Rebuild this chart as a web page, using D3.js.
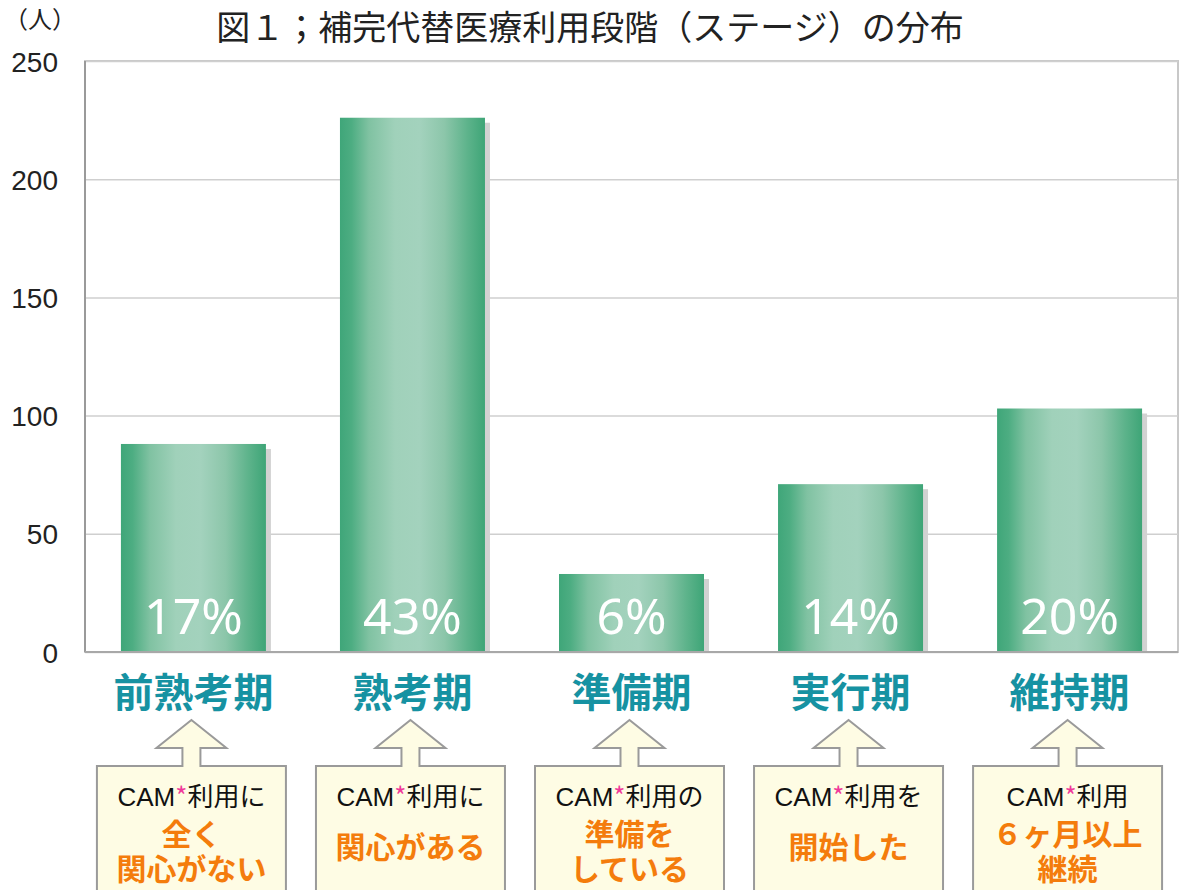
<!DOCTYPE html>
<html>
<head>
<meta charset="utf-8">
<script src="https://cdn.jsdelivr.net/npm/d3@7"></script>
<style>
  html, body { margin: 0; padding: 0; background: #fff; }
  svg { display: block; font-family: "Noto Sans CJK JP", "Noto Sans", sans-serif; }
</style>
</head>
<body>
<svg id="chart" width="1179" height="890"></svg>
<script>
const stages = ["前熟考期", "熟考期", "準備期", "実行期", "維持期"];
const counts = [88, 226, 33, 71, 103];
const shares = ["17%", "43%", "6%", "14%", "20%"];
const boxLead = ["CAM*利用に", "CAM*利用に", "CAM*利用の", "CAM*利用を", "CAM*利用"];
const boxMain = [["全く", "関心がない"], ["関心がある"], ["準備を", "している"], ["開始した"], ["６ヶ月以上", "継続"]];
const yTicks = [0, 50, 100, 150, 200, 250];

const width = 1179, height = 890;
const margin = { left: 85, right: 1, top: 61, bottom: 238 };

const svg = d3.select("#chart");

// gradient for the bars
const defs = svg.append("defs");
const grad = defs.append("linearGradient").attr("id", "barGrad")
  .attr("x1", "0%").attr("x2", "100%").attr("y1", "0%").attr("y2", "0%");
[[0, "#3fa679"], [0.08, "#4dad82"], [0.2, "#80c2a2"], [0.38, "#a0d1ba"], [0.55, "#a3d2bd"],
 [0.72, "#8cc6aa"], [0.88, "#5db38b"], [1, "#3ea577"]]
  .forEach(([o, c]) => grad.append("stop").attr("offset", o).attr("stop-color", c));

const x = d3.scaleBand()
  .domain(stages)
  .range([margin.left, width - margin.right])
  .paddingInner(0.338)
  .paddingOuter(0.164);

const y = d3.scaleLinear()
  .domain([0, 250])
  .range([height - margin.bottom, margin.top]);

// frame + grid
svg.append("rect")
  .attr("x", margin.left).attr("y", margin.top)
  .attr("width", width - margin.right - margin.left)
  .attr("height", y(0) - margin.top)
  .attr("fill", "none").attr("stroke", "#c8c8c8").attr("stroke-width", 2);

const yAxis = d3.axisLeft(y).tickValues(yTicks).tickSize(0).tickPadding(0);
svg.append("g")
  .attr("transform", `translate(${margin.left},0)`)
  .call(yAxis)
  .call((g) => {
    g.select(".domain").remove();
    g.selectAll(".tick line")
      .attr("x2", width - margin.right - margin.left)
      .attr("stroke", "#cfcfcf").attr("stroke-width", 1.5);
    g.selectAll(".tick text")
      .attr("x", -27).attr("dy", "0.36em")
      .attr("fill", "#222")
      .style("font-family", "'Liberation Sans', Arial, sans-serif")
      .style("font-size", "28px");
  });

// left and bottom axis lines
svg.append("line")
  .attr("x1", margin.left).attr("x2", margin.left)
  .attr("y1", margin.top).attr("y2", y(0))
  .attr("stroke", "#9a9a9a").attr("stroke-width", 2);
svg.append("line")
  .attr("x1", margin.left).attr("x2", width - margin.right)
  .attr("y1", y(0)).attr("y2", y(0))
  .attr("stroke", "#a8a8a8").attr("stroke-width", 2);

// bars
const bars = svg.append("g").selectAll("g").data(stages).join("g");
bars.append("rect")
  .attr("x", (d) => x(d) + 5)
  .attr("y", (d, i) => y(counts[i]) + 5)
  .attr("width", x.bandwidth())
  .attr("height", (d, i) => y(0) - y(counts[i]) - 6)
  .attr("fill", "#d2d2d2");
bars.append("rect")
  .attr("x", (d) => x(d))
  .attr("y", (d, i) => y(counts[i]))
  .attr("width", x.bandwidth())
  .attr("height", (d, i) => y(0) - y(counts[i]) - 1)
  .attr("fill", "url(#barGrad)");
bars.append("text")
  .attr("x", (d) => x(d) + x.bandwidth() / 2)
  .attr("y", y(0) - 18)
  .attr("text-anchor", "middle")
  .attr("fill", "#fff")
  .style("font-family", "'Noto Sans', 'Liberation Sans', sans-serif")
  .style("font-size", "50px")
  .text((d, i) => shares[i]);

// category labels
svg.append("g").selectAll("text").data(stages).join("text")
  .attr("x", (d) => x(d) + x.bandwidth() / 2)
  .attr("y", 707)
  .attr("text-anchor", "middle")
  .attr("fill", "#1692a2")
  .style("font-size", "40px")
  .style("font-weight", "bold")
  .text((d) => d);

// arrow boxes
const boxW = 189, boxTop = 766, tip = 720, headBase = 748, headHalf = 35, shaftHalf = 9;
const boxes = svg.append("g").selectAll("g").data(stages).join("g")
  .attr("transform", (d) => `translate(${x(d) + x.bandwidth() / 2 - 2},0)`);
boxes.append("path")
  .attr("d", () => {
    const p = d3.path();
    p.moveTo(-boxW / 2, 900);
    p.lineTo(-boxW / 2, boxTop);
    p.lineTo(-shaftHalf, boxTop);
    p.lineTo(-shaftHalf, headBase);
    p.lineTo(-headHalf, headBase);
    p.lineTo(0, tip);
    p.lineTo(headHalf, headBase);
    p.lineTo(shaftHalf, headBase);
    p.lineTo(shaftHalf, boxTop);
    p.lineTo(boxW / 2, boxTop);
    p.lineTo(boxW / 2, 900);
    return p.toString();
  })
  .attr("fill", "#fefce4")
  .attr("stroke", "#9a9a9a")
  .attr("stroke-width", 2);

boxes.append("text")
  .attr("y", 806)
  .attr("text-anchor", "middle")
  .attr("fill", "#111")
  .style("font-size", "26px")
  .each(function (d, i) {
    const [pre, post] = boxLead[i].split("*");
    const t = d3.select(this);
    t.append("tspan").style("font-family", "'Liberation Sans', Arial, sans-serif").text(pre);
    t.append("tspan").attr("fill", "#f0399a").text("*");
    t.append("tspan").text(post);
  });

boxes.each(function (d, i) {
  const lines = boxMain[i];
  const ys = lines.length === 1 ? [858] : [845, 880];
  d3.select(this).selectAll("text.main").data(lines).join("text")
    .attr("class", "main")
    .attr("y", (l, j) => ys[j])
    .attr("text-anchor", "middle")
    .attr("fill", "#f47c0c")
    .style("font-size", "30px")
    .style("font-weight", "bold")
    .text((l) => l);
});

// title and unit
svg.append("text")
  .attr("x", 590).attr("y", 40)
  .attr("text-anchor", "middle")
  .attr("fill", "#222")
  .style("font-size", "34px")
  .text("図１；補完代替医療利用段階（ステージ）の分布");
svg.append("text")
  .attr("x", 4).attr("y", 28)
  .attr("fill", "#222")
  .style("font-size", "24px")
  .text("（人）");
</script>
</body>
</html>
